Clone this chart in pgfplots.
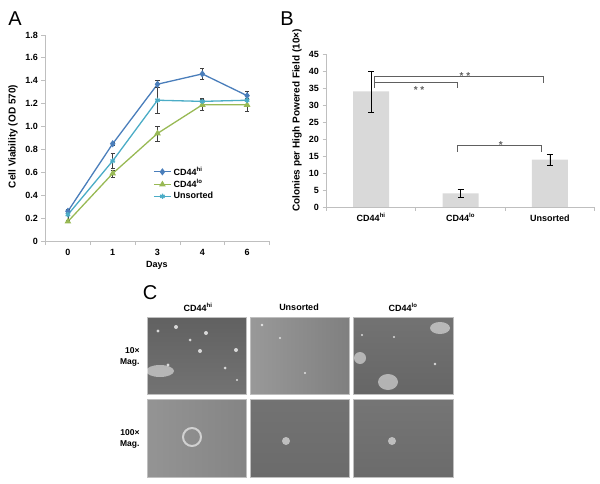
\documentclass[border=0pt]{standalone}
\usepackage{fontspec}
\setmainfont{Liberation Sans}
\usepackage{pgfplots}
\pgfplotsset{compat=1.18}
\definecolor{cblue}{HTML}{4A7EBB}
\definecolor{cgreen}{HTML}{98B954}
\definecolor{ccyan}{HTML}{4BACC6}
\definecolor{axgray}{HTML}{BFBFBF}
\definecolor{bargray}{HTML}{D9D9D9}
\definecolor{brk}{HTML}{606060}
\newcommand\tfont{\bfseries\fontsize{9}{10.8}\selectfont}
\newcommand\hi{\textsuperscript{hi}}
\newcommand\lo{\textsuperscript{lo}}
\begin{document}
\begin{tikzpicture}
\path[use as bounding box] (0,0) rectangle (600pt,483pt);
% ---------------- Panel A
\begin{axis}[
  at={(45.5pt,242pt)}, anchor=south west, scale only axis,
  width=224pt, height=206pt,
  xmin=-0.5, xmax=4.5, ymin=0, ymax=1.8,
  axis x line=bottom, axis y line=left,
  axis line style={-, draw=axgray, line width=0.8pt},
  tick align=outside, major tick length=4pt, minor tick length=4pt,
  tick style={draw=axgray, line width=0.8pt},
  xtick={0,1,2,3,4}, xticklabels={0,1,3,4,6},
  major x tick style={draw=none},
  minor xtick={-0.5,0.5,1.5,2.5,3.5,4.5},
  ytick={0,0.2,0.4,0.6,0.8,1.0,1.2,1.4,1.6,1.8},
  yticklabels={0,0.2,0.4,0.6,0.8,1.0,1.2,1.4,1.6,1.8},
  tick label style={font=\tfont},
  xticklabel style={text height=7pt, text depth=1pt},
  clip=false,
  legend style={draw=none, fill=none, at={(0.48,0.37)}, anchor=north west,
    font=\tfont, row sep=-1pt, inner sep=0pt},
  legend cell align=left,
]
\addplot[cblue, line width=1.3pt, mark=diamond*, mark size=2.6pt,
  error bars/.cd, y dir=both, y explicit,
  error bar style={black!75, line width=0.6pt},
  error mark options={rotate=90, mark size=2pt, black!75, line width=0.6pt}]
  table[x=x, y=y, y error=e] {
x y e
0 0.26 0.02
1 0.85 0.01
2 1.37 0.03
3 1.46 0.05
4 1.27 0.04
};
\addplot[cgreen, line width=1.3pt, mark=triangle*, mark size=2.6pt,
  error bars/.cd, y dir=both, y explicit,
  error bar style={black!75, line width=0.6pt},
  error mark options={rotate=90, mark size=2pt, black!75, line width=0.6pt}]
  table[x=x, y=y, y error=e] {
x y e
0 0.17 0.01
1 0.59 0.03
2 0.94 0.065
3 1.19 0.05
4 1.19 0.06
};
\addplot[ccyan, line width=1.3pt, mark=asterisk, mark size=2.6pt,
  error bars/.cd, y dir=both, y explicit,
  error bar style={black!75, line width=0.6pt},
  error mark options={rotate=90, mark size=2pt, black!75, line width=0.6pt}]
  table[x=x, y=y, y error=e] {
x y e
0 0.23 0.05
1 0.70 0.065
2 1.23 0.11
3 1.22 0.03
4 1.23 0.04
};
\legend{CD44\hi, CD44\lo, Unsorted}
\end{axis}
% ---------------- Panel B
\begin{axis}[
  at={(326.5pt,276pt)}, anchor=south west, scale only axis,
  width=268pt, height=153pt,
  xmin=-0.5, xmax=2.5, ymin=0, ymax=45,
  axis x line=bottom, axis y line=left,
  axis line style={-, draw=axgray, line width=0.8pt},
  tick align=outside, major tick length=4pt, minor tick length=4pt,
  tick style={draw=axgray, line width=0.8pt},
  xtick={0,1,2}, xticklabels={CD44\hi,CD44\lo,Unsorted},
  major x tick style={draw=none},
  minor xtick={-0.5,0.5,1.5,2.5},
  ytick={0,5,10,15,20,25,30,35,40,45},
  yticklabels={0,5,10,15,20,25,30,35,40,45},
  tick label style={font=\tfont},
  xticklabel style={text height=7pt, text depth=1pt},
  clip=false,
]
\addplot[ybar, bar width=36pt, fill=bargray, draw=none,
  error bars/.cd, y dir=both, y explicit,
  error bar style={black, line width=0.6pt},
  error mark options={rotate=90, mark size=3pt, black, line width=0.6pt}]
  table[x=x, y=y, y error=e] {
x y e
0 34 6
1 4 1.1
2 13.9 1.7
};
\draw[brk, line width=0.7pt] (axis cs:0.034,35.0) -- (axis cs:0.034,36.7) -- (axis cs:0.96,36.7) -- (axis cs:0.96,35.0);
\draw[brk, line width=0.7pt] (axis cs:0.034,36.4) -- (axis cs:0.034,38.5) -- (axis cs:1.93,38.5) -- (axis cs:1.93,36.4);
\draw[brk, line width=0.7pt] (axis cs:0.97,16.3) -- (axis cs:0.97,18.1) -- (axis cs:1.91,18.1) -- (axis cs:1.91,16.3);
\node[brk, font=\bfseries\fontsize{10}{10}\selectfont] at (axis cs:0.536,34.4) {* *};
\node[brk, font=\bfseries\fontsize{10}{10}\selectfont] at (axis cs:1.05,38.6) {* *};
\node[brk, font=\bfseries\fontsize{10}{10}\selectfont] at (axis cs:1.45,18.2) {*};
\end{axis}
% ---------------- labels
\node[font=\fontsize{20}{20}\selectfont] at (15pt,464pt) {A};
\node[font=\fontsize{20}{20}\selectfont] at (287pt,464pt) {B};
\node[font=\fontsize{20}{20}\selectfont] at (150pt,190pt) {C};
\node[rotate=90, font=\bfseries\fontsize{10}{11}\selectfont] at (13pt,346.5pt) {Cell Viability (OD 570)};
\node[font=\bfseries\fontsize{9}{10}\selectfont] at (157pt,218pt) {Days};
\node[rotate=90, font=\bfseries\fontsize{10}{11}\selectfont] at (297pt,362.5pt) {Colonies per High Powered Field (10×)};
% ---------------- Panel C
\node[font=\tfont] at (198pt,176pt) {CD44\hi};
\node[font=\tfont] at (299pt,176pt) {Unsorted};
\node[font=\tfont] at (403pt,176pt) {CD44\lo};
\node[font=\bfseries\fontsize{8.5}{11}\selectfont, align=right, anchor=east] at (143pt,126pt) {10×\\Mag.};
\node[font=\bfseries\fontsize{8.5}{11}\selectfont, align=right, anchor=east] at (143pt,44pt) {100×\\Mag.};
% photos (placeholders)
\shade[top color=black!62, bottom color=black!55, draw=black!25, line width=0.8pt] (147pt,89pt) rectangle (246pt,166pt);
\shade[left color=black!40, right color=black!50, draw=black!25, line width=0.8pt] (250pt,89pt) rectangle (349pt,166pt);
\shade[top color=black!55, bottom color=black!60, draw=black!25, line width=0.8pt] (353pt,89pt) rectangle (453pt,166pt);
\shade[left color=black!42, right color=black!48, draw=black!25, line width=0.8pt] (147pt,6pt) rectangle (246pt,84pt);
\shade[top color=black!55, bottom color=black!58, draw=black!25, line width=0.8pt] (250pt,6pt) rectangle (349pt,84pt);
\shade[top color=black!54, bottom color=black!58, draw=black!25, line width=0.8pt] (353pt,6pt) rectangle (453pt,84pt);
\begin{scope}[fill=white, opacity=0.75]
\fill (158pt,152pt) circle (1.6pt); \fill (176pt,156pt) circle (2pt); \fill (190pt,143pt) circle (1.5pt);
\fill (206pt,150pt) circle (2pt); \fill (200pt,132pt) circle (2pt); \fill (236pt,133pt) circle (2pt);
\fill (168pt,118pt) circle (1.6pt); \fill (225pt,115pt) circle (1.5pt); \fill (237pt,103pt) circle (1.2pt);
\fill (262pt,158pt) circle (1.4pt); \fill (280pt,145pt) circle (1.2pt); \fill (305pt,110pt) circle (1.2pt);
\fill (362pt,148pt) circle (1.2pt); \fill (394pt,146pt) circle (1.2pt); \fill (435pt,119pt) circle (1.4pt);
\end{scope}
\begin{scope}[opacity=0.5]
\fill[white] (160pt,112pt) ellipse (14pt and 6pt);
\fill[white] (360pt,125pt) circle (6pt);
\fill[white] (388pt,101pt) ellipse (10pt and 8pt);
\fill[white] (440pt,155pt) ellipse (10pt and 6pt);
\end{scope}
\draw[white, opacity=0.6, line width=2pt] (192pt,46pt) circle (9pt);
\fill[white, opacity=0.55] (286pt,42pt) circle (4pt);
\fill[white, opacity=0.55] (392pt,42pt) circle (4pt);
\end{tikzpicture}
\end{document}
